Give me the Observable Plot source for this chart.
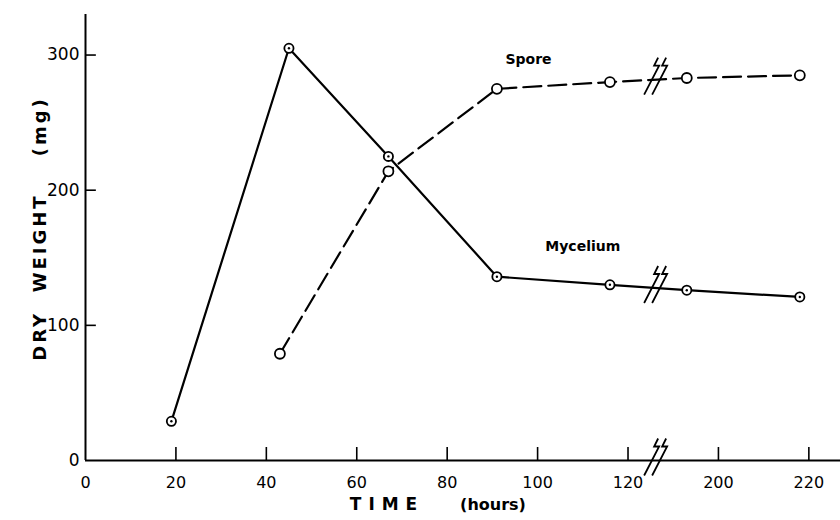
<!DOCTYPE html>
<html><head><meta charset="utf-8">
<script src="https://cdn.jsdelivr.net/npm/d3@7"></script>
<script src="https://cdn.jsdelivr.net/npm/@observablehq/plot@0.6"></script>
<style>body{margin:0;background:#fff}</style>
</head><body><div id="chart"></div>
<script>
// ---- data ----
const myceliumHours  = [19, 45, 67, 91, 116, 193, 218];
const myceliumWeight = [29, 305, 225, 136, 130, 126, 121];
const sporeHours     = [43, 67, 91, 116, 193, 218];
const sporeWeight    = [79, 214, 275, 280, 283, 285];
const xTickHours     = [0, 20, 40, 60, 80, 100, 120, 200, 220];
const yTickValues    = [0, 100, 200, 300];
const seriesLabels   = ["Spore", "Mycelium"];
const seriesLabelAt  = [[158, 297], [170, 158]]; // [hours, mg]
const breakHour      = 126;
const removedHours   = 60;   // 130..190 h cut out by the axis break

// compress time axis beyond the break
const cx = h => (h > 130 ? h - removedHours : h);
const mycelium = myceliumHours.map((h, i) => ({x: cx(h), y: myceliumWeight[i]}));
const spore = sporeHours.map((h, i) => ({x: cx(h), y: sporeWeight[i]}));
const interp = (pts, x) => {
  for (let i = 1; i < pts.length; i++) if (pts[i].x >= x) {
    const a = pts[i-1], b = pts[i], t = (x - a.x) / (b.x - a.x);
    return a.y + t * (b.y - a.y);
  }
};
const breaks = [
  {x: breakHour, y: 0},
  {x: breakHour, y: interp(mycelium, breakHour)},
  {x: breakHour, y: interp(spore, breakHour)}
];
const tickLabel = new Map(xTickHours.map(h => [cx(h), String(h)]));
const labels = seriesLabels.map((s, i) => ({text: s, x: cx(seriesLabelAt[i][0]), y: seriesLabelAt[i][1]}));

const breakSymbol = {
  draw(ctx) {
    const p = [[3, -22], [-1, -14], [4, -14], [-11, 15]];
    for (const off of [0, 8]) {
      ctx.moveTo(p[0][0] + off, p[0][1]);
      for (let k = 1; k < p.length; k++) ctx.lineTo(p[k][0] + off, p[k][1]);
    }
  }
};
const dotCenter = {
  draw(ctx) { ctx.moveTo(1.2, 0); ctx.arc(0, 0, 1.2, 0, 2 * Math.PI); }
};

const font = "DejaVu Sans, Liberation Sans, sans-serif";
const plot = Plot.plot({
  width: 840, height: 520,
  marginLeft: 85, marginRight: 0, marginTop: 14, marginBottom: 60,
  style: {fontFamily: font, background: "#fff", color: "#000"},
  x: {domain: [0, 167]},
  y: {domain: [0, 330]},
  marks: [
    Plot.ruleY([0], {stroke: "#000", strokeWidth: 2}),
    Plot.ruleX([0], {stroke: "#000", strokeWidth: 2}),
    Plot.ruleX(xTickHours.slice(1).map(cx), {x: d => d, y1: 0, y2: 9.6, stroke: "#000", strokeWidth: 1.6}),
    Plot.ruleY(yTickValues.slice(1), {y: d => d, x1: 0, x2: 2.4, stroke: "#000", strokeWidth: 1.6}),
    Plot.axisX(xTickHours.map(cx), {tickSize: 0, tickPadding: 16, fontSize: 16, tickFormat: d => tickLabel.get(d), label: null}),
    Plot.axisY(yTickValues, {tickSize: 0, tickPadding: 6, fontSize: 17, label: null}),
    Plot.line(spore, {x: "x", y: "y", stroke: "#000", strokeWidth: 2.2, strokeDasharray: "18,7"}),
    Plot.line(mycelium, {x: "x", y: "y", stroke: "#000", strokeWidth: 2.2}),
    Plot.dot(breaks, {x: "x", y: "y", symbol: breakSymbol, stroke: "#000", fill: "none", strokeWidth: 1.8}),
    Plot.dot(spore, {x: "x", y: "y", r: 5, fill: "#fff", stroke: "#000", strokeWidth: 1.8}),
    Plot.dot(mycelium, {x: "x", y: "y", r: 4.6, fill: "#fff", stroke: "#000", strokeWidth: 1.8}),
    Plot.dot(mycelium, {x: "x", y: "y", symbol: dotCenter, fill: "#000", stroke: "none"}),
    Plot.text(labels, {x: "x", y: "y", text: "text", fontSize: 14, fontWeight: "bold"}),
    Plot.text(["TIME"], {frameAnchor: "bottom", dx: -76, dy: 49, fontSize: 17, fontWeight: "bold"}),
    Plot.text(["(hours)"], {frameAnchor: "bottom", dx: 30, dy: 49, fontSize: 16, fontWeight: "bold"}),
    Plot.text(["DRY  WEIGHT    (mg)"], {frameAnchor: "left", textAnchor: "middle", dx: -45, dy: -9, rotate: -90, fontSize: 18, fontWeight: "bold"})
  ]
});
d3.select(plot).selectAll("text").filter(function() { return this.textContent === "TIME"; }).attr("letter-spacing", "7px");
d3.select(plot).selectAll("text").filter(function() { return this.textContent.startsWith("DRY"); }).attr("letter-spacing", "3px").attr("xml:space", "preserve").style("white-space", "pre");
document.getElementById("chart").append(plot);
</script>
</body></html>
